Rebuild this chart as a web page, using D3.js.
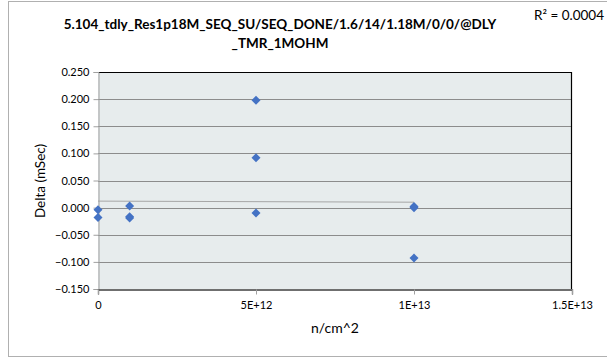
<!DOCTYPE html>
<html><head><meta charset="utf-8">
<script src="https://cdn.jsdelivr.net/npm/d3@7"></script>
<style>body{margin:0;background:#fff}svg{display:block}</style>
</head><body>
<svg id="c" width="607" height="359"></svg>
<script>
const titleLines = ["5.104_tdly_Res1p18M_SEQ_SU/SEQ_DONE/1.6/14/1.18M/0/0/@DLY", "_TMR_1MOHM"];
const xLabel = "n/cm^2";
const yLabel = "Delta (mSec)";
const r2Label = "R² = 0.0004";
const xVals = [0, 0, 1e12, 1e12, 1e12, 5e12, 5e12, 5e12, 1e13, 1e13, 1e13];
const yVals = [-0.004, -0.018, 0.003, -0.017, -0.019, 0.198, 0.092, -0.010, 0.002, 0.000, -0.093];
const xTicks = [0, 5e12, 1e13, 1.5e13];
const xTickLabels = ["0", "5E+12", "1E+13", "1.5E+13"];
const yTicks = [-0.15, -0.10, -0.05, 0, 0.05, 0.10, 0.15, 0.20, 0.25];
const trendX = [0, 1e13];
const trendY = [0.012, 0.010];

const svg = d3.select("#c");
const font = "Lato, 'Open Sans', sans-serif";
const L = 98, R = 572, T = 72, B = 289;
const x = d3.scaleLinear().domain([0, 1.5e13]).range([L, R]);
const y = d3.scaleLinear().domain([-0.15, 0.25]).range([B, T]);

// outer border
svg.append("rect").attr("x", 8.5).attr("y", 1.5).attr("width", 620).attr("height", 355)
  .attr("fill", "none").attr("stroke", "#b0b0b0").attr("stroke-width", 1);

// plot area
svg.append("rect").attr("x", L).attr("y", T).attr("width", R - L).attr("height", B - T)
  .attr("fill", "#e7eced");

// gridlines
svg.append("g").selectAll("line").data(yTicks.slice(1)).join("line")
  .attr("x1", L).attr("x2", R).attr("y1", d => Math.round(y(d)) + 0.5).attr("y2", d => Math.round(y(d)) + 0.5)
  .attr("stroke", "#8c8c8c").attr("stroke-width", 1);

// plot border top/right
svg.append("path").attr("d", `M${L},${T + 0.5}H${R - 0.5}V${B}`).attr("fill", "none").attr("stroke", "#000").attr("stroke-width", 1.2);

// y axis
const yAxis = d3.axisLeft(y).tickValues(yTicks).tickFormat(d3.format(".3f")).tickSizeOuter(0).tickSize(5).tickPadding(4);
const gy = svg.append("g").attr("transform", `translate(${L + 0.5},0)`).call(yAxis);
gy.select(".domain").attr("stroke", "#a0a0a0");
gy.selectAll(".tick line").attr("stroke", "#a0a0a0");
gy.selectAll("text").attr("font-family", font).attr("font-size", 11).attr("fill", "#000");

// x axis
const xAxis = d3.axisBottom(x).tickValues(xTicks).tickFormat((d, i) => xTickLabels[i]).tickSizeOuter(0).tickSize(5).tickPadding(7);
const gx = svg.append("g").attr("transform", `translate(0,${B + 0.5})`).call(xAxis);
gx.select(".domain").attr("stroke", "#404040").attr("stroke-width", 1.3);
gx.selectAll(".tick line").attr("stroke", "#a0a0a0");
gx.selectAll("text").attr("font-family", font).attr("font-size", 11).attr("fill", "#000");

// trend line
svg.append("path").datum(trendX.map((d, i) => [d, trendY[i]]))
  .attr("d", d3.line().x(d => x(d[0])).y(d => y(d[1])))
  .attr("fill", "none").attr("stroke", "#a6a6a6").attr("stroke-width", 1);

// points (diamonds)
const diamond = "M0,-4.5L4.5,0L0,4.5L-4.5,0Z";
svg.append("g").selectAll("path").data(xVals.map((d, i) => [d, yVals[i]])).join("path")
  .attr("d", diamond).attr("transform", d => `translate(${x(d[0])},${y(d[1])})`)
  .attr("fill", "#4472c4");

// title
svg.append("g").selectAll("text").data(titleLines).join("text")
  .attr("x", 280).attr("y", (d, i) => 29 + i * 19).attr("text-anchor", "middle")
  .attr("font-family", font).attr("font-weight", "bold").attr("font-size", 13.5).attr("fill", "#000")
  .text(d => d);

svg.append("text").attr("x", 604).attr("y", 20).attr("text-anchor", "end")
  .attr("font-family", font).attr("font-size", 13.5).attr("fill", "#000").text(r2Label);

svg.append("text").attr("x", 335).attr("y", 333).attr("text-anchor", "middle")
  .attr("font-family", font).attr("font-size", 14).attr("fill", "#000").text(xLabel);

svg.append("text").attr("transform", `translate(45,181) rotate(-90)`).attr("text-anchor", "middle")
  .attr("font-family", font).attr("font-size", 13.5).attr("fill", "#000").text(yLabel);
</script>
</body></html>
